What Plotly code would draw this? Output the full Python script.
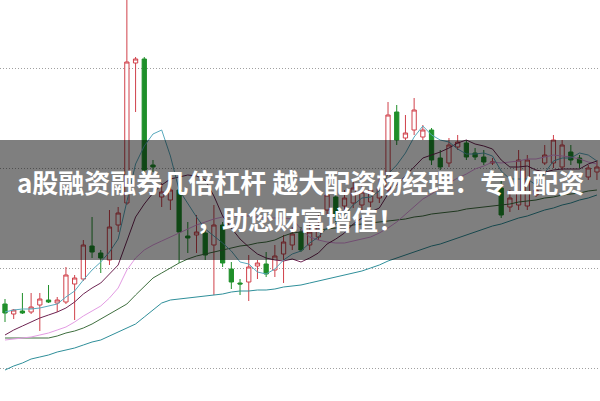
import plotly.graph_objects as go

idx = list(range(69))

opens = [1.64,1.54,1.57,1.56,1.63,1.68,1.65,1.66,1.84,1.89,
         2.22,2.15,2.08,2.43,2.65,4.05,4.09,3.03,2.71,2.68,
         2.78,2.32,2.33,2.35,2.23,2.43,1.99,1.85,1.86,2.02,
         2.04,1.98,2.14,2.23,2.36,2.23,2.31,2.58,2.71,2.62,
         2.65,2.63,2.66,2.70,2.78,3.56,3.30,3.38,3.31,3.38,
         3.10,3.05,3.21,3.25,3.15,3.11,3.05,2.80,2.61,2.63,
         2.62,2.73,3.05,3.05,3.01,3.16,3.10,2.91,2.96]
closes = [1.55,1.58,1.55,1.61,1.69,1.66,1.68,1.93,1.90,2.23,
          2.16,2.10,2.41,2.55,4.06,4.09,2.98,3.01,2.76,2.78,
          2.36,2.30,2.36,2.13,2.43,2.05,1.86,1.84,2.01,2.05,
          1.94,2.12,2.26,2.34,2.18,2.36,2.41,2.73,2.51,2.70,
          2.80,2.76,2.78,2.81,3.53,3.28,3.35,3.58,3.38,3.08,
          3.01,3.23,3.26,3.11,3.11,3.06,3.06,2.53,2.70,3.08,
          3.08,2.78,3.13,3.28,3.23,3.08,3.05,3.00,3.01]
highs = [1.69,1.59,1.75,1.75,1.75,1.83,1.71,2.01,1.93,2.28,
         2.51,2.18,2.58,2.61,4.78,4.11,4.11,3.08,2.85,2.85,
         2.80,2.46,2.53,2.40,2.63,2.46,2.06,1.89,2.13,2.08,
         2.16,2.23,2.33,2.41,2.41,2.46,2.53,2.85,2.75,2.78,
         2.88,2.85,2.83,2.93,3.66,3.63,3.53,3.70,3.43,3.40,
         3.18,3.30,3.33,3.28,3.20,3.18,3.10,2.88,2.78,3.18,
         3.13,2.83,3.23,3.33,3.28,3.23,3.13,3.03,3.08]
lows = [1.46,1.49,1.54,1.54,1.37,1.65,1.56,1.64,1.48,1.87,
        2.10,1.95,2.03,2.36,2.63,3.56,2.96,2.96,2.61,2.58,
        2.05,2.15,2.15,2.08,1.73,2.01,1.79,1.73,1.67,1.89,
        1.91,1.91,1.85,2.18,2.16,2.18,2.28,2.53,2.46,2.58,
        2.60,2.58,2.61,2.65,2.76,3.23,3.28,3.33,3.28,3.03,
        2.98,3.01,3.18,3.08,3.08,3.03,3.03,2.50,2.56,2.58,
        2.58,2.71,3.03,3.00,2.98,3.03,3.00,2.88,2.88]

ma5 = [1.56,1.58,1.59,1.59,1.60,1.62,1.64,1.71,1.77,1.88,
       1.98,2.06,2.16,2.29,2.66,3.04,3.22,3.34,3.38,3.12,
       2.78,2.64,2.51,2.39,2.32,2.25,2.17,2.06,2.04,1.96,
       1.94,1.99,2.08,2.14,2.17,2.25,2.31,2.40,2.44,2.54,
       2.63,2.70,2.71,2.77,2.94,3.03,3.15,3.31,3.42,3.33,
       3.28,3.26,3.19,3.14,3.14,3.15,3.12,2.97,2.89,2.89,
       2.89,2.83,2.95,3.07,3.10,3.10,3.15,3.13,3.07]
ma10 = [1.33,1.38,1.42,1.46,1.50,1.53,1.56,1.60,1.66,
        1.74,1.80,1.85,1.94,2.03,2.27,2.51,2.64,2.75,2.83,
        2.89,2.91,2.93,2.92,2.88,2.72,2.52,2.40,2.29,2.21,
        2.14,2.10,2.08,2.07,2.09,2.06,2.10,2.15,2.24,2.29,
        2.35,2.44,2.50,2.56,2.60,2.74,2.83,2.92,3.01,3.10,
        3.13,3.16,3.20,3.25,3.28,3.24,3.22,3.19,3.08,3.01,
        3.01,3.02,2.98,2.96,2.98,2.99,2.99,2.99,3.04,3.07]
ma20 = [1.28,1.29,1.30,1.31,1.33,1.35,1.38,1.41,1.46,1.52,
        1.57,1.62,1.70,1.80,1.98,2.10,2.18,2.23,2.27,
        2.31,2.35,2.39,2.43,2.46,2.49,2.51,2.52,2.52,2.52,2.51,2.50,2.50,2.50,
        2.49,2.39,2.31,2.28,2.26,2.25,2.25,2.27,2.29,2.31,
        2.35,2.40,2.46,2.54,2.62,2.69,2.74,2.80,2.85,2.90,
        2.94,2.99,3.02,3.06,3.05,3.06,3.07,3.09,3.09,3.11,
        3.13,3.12,3.11,3.09,3.06,3.04]
ma30 = [1.30,1.30,1.30,1.30,1.30,1.30,1.32,1.35,1.37,1.40,
        1.44,1.49,1.54,1.59,1.64,1.73,1.82,1.90,1.95,2.00,
        2.05,2.09,2.12,2.14,2.16,2.18,2.20,2.22,2.23,2.25,
        2.26,2.28,2.32,2.35,2.36,2.37,2.38,2.39,2.40,2.41,
        2.43,2.44,2.45,2.46,2.47,2.48,2.49,2.51,2.52,2.54,
        2.55,2.56,2.57,2.59,2.60,2.61,2.62,2.63,2.64,2.66,
        2.67,2.68,2.70,2.71,2.73,2.74,2.75,2.77,2.78]
ma60 = [0.98,1.02,1.05,1.09,1.11,1.13,1.16,1.18,1.20,1.23,
        1.26,1.28,1.32,1.36,1.40,1.44,1.51,1.58,1.65,1.68,
        1.69,1.70,1.71,1.72,1.73,1.74,1.76,1.77,1.77,1.78,
        1.78,1.79,1.81,1.82,1.83,1.85,1.87,1.89,1.91,1.93,
        1.95,1.97,2.00,2.03,2.07,2.10,2.13,2.16,2.19,2.22,
        2.24,2.27,2.30,2.33,2.36,2.39,2.42,2.44,2.47,2.50,
        2.52,2.55,2.58,2.60,2.63,2.65,2.68,2.70,2.73]

banner_line1 = "a股融资融券几倍杠杆 越大配资杨经理：专业配资"
banner_line2 = "，助您财富增值！"

RED = "#d0404a"
GREEN = "#1f8f2a"

fig = go.Figure()
fig.add_trace(go.Candlestick(
    x=idx, open=opens, high=highs, low=lows, close=closes,
    increasing=dict(line=dict(color=RED, width=1), fillcolor="white"),
    decreasing=dict(line=dict(color=GREEN, width=1), fillcolor=GREEN),
    showlegend=False, hoverinfo="skip"))

for vals, col in [(ma60, "#2f8f9a"), (ma30, "#3f6f3f"), (ma20, "#e39be3"),
                  (ma10, "#6e2452"), (ma5, "#58a9bd")]:
    fig.add_trace(go.Scatter(x=idx, y=vals, mode="lines",
                             line=dict(color=col, width=1),
                             showlegend=False, hoverinfo="skip"))

fig.update_layout(
    width=600, height=401,
    margin=dict(l=0, r=0, t=0, b=0),
    paper_bgcolor="white", plot_bgcolor="white",
    hovermode=False,
    xaxis=dict(range=[-0.574, 68.35], showgrid=False, zeroline=False,
               showticklabels=False, rangeslider=dict(visible=False),
               showline=False, ticks=""),
    yaxis=dict(range=[0.67, 4.68], tick0=0, dtick=1, showgrid=True,
               gridcolor="#a0a0a0", griddash="1px,2px", gridwidth=1,
               zeroline=False, showticklabels=False, showline=False, ticks=""),
    shapes=[dict(type="rect", xref="paper", yref="paper",
                 x0=0, x1=1, y0=1 - 260 / 401, y1=1 - 140 / 401,
                 fillcolor="rgba(0,0,0,0.5)", line=dict(width=0),
                 layer="above")],
    annotations=[
        dict(text="<b>" + banner_line1 + "</b>", xref="paper", yref="paper",
             x=0.5, y=1 - 182 / 401, showarrow=False, xanchor="center",
             yanchor="middle",
             font=dict(family="Noto Sans CJK SC", size=26, color="white")),
        dict(text="<b>" + banner_line2 + "</b>", xref="paper", yref="paper",
             x=0.5, y=1 - 218 / 401, showarrow=False, xanchor="center",
             yanchor="middle",
             font=dict(family="Noto Sans CJK SC", size=26, color="white")),
    ],
)

fig.write_html("out.html",
               config={"displayModeBar": False, "staticPlot": True},
               post_script="document.body.style.margin='0px';document.body.style.overflow='hidden';")
